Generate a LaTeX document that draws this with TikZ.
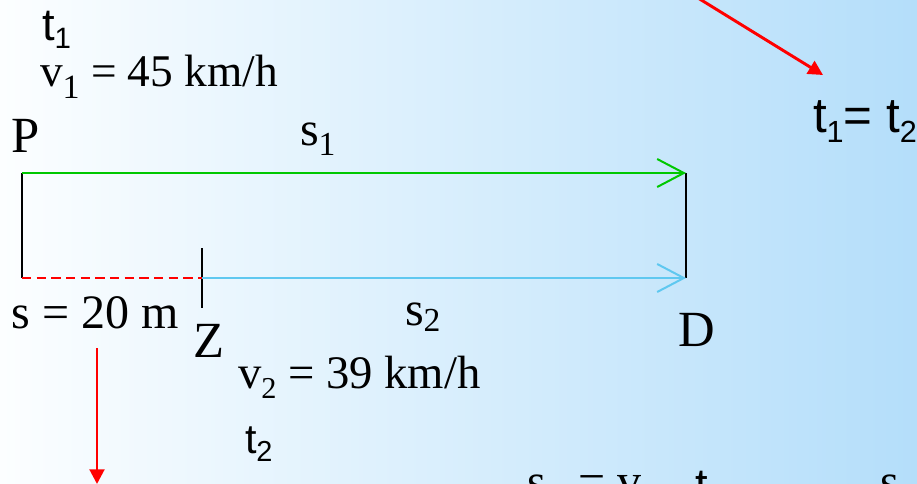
\documentclass[tikz,border=0pt]{standalone}
\usepackage{fontspec}
\setmainfont{Liberation Serif}
\setsansfont{Liberation Sans}
\usepackage{graphicx}
\usetikzlibrary{arrows.meta}
\definecolor{bgleft}{RGB}{252,254,255}
\definecolor{bgmid}{RGB}{208,233,252}
\definecolor{bgright}{RGB}{180,222,250}
\definecolor{pathgreen}{RGB}{0,200,0}
\definecolor{pathblue}{RGB}{95,200,240}
\newcommand\low[3]{\raisebox{-#2pt}{\scalebox{#1}{#3}}}
\tikzset{
  lbl/.style={anchor=base west,inner sep=0pt,outer sep=0pt},
  openarrow/.style={-{Straight Barb[length=20pt,width=21pt,line width=1.5pt]},line width=1.5pt},
  redarrow/.style={-{Triangle[length=11pt,width=11pt]},red,line width=2.2pt},
}

\begin{document}
\begin{tikzpicture}[x=0.75pt,y=-0.75pt]
\useasboundingbox (0,0) rectangle (917,483);
\clip (0,0) rectangle (917,483);
\shade[left color=bgleft,middle color=bgmid,right color=bgright] (0,0) rectangle (917,483);

% points of the two paths
\coordinate (pTop) at (22,173);
\coordinate (pBot) at (22,278);
\coordinate (zMid) at (202,278);
\coordinate (zTop) at (202,248);
\coordinate (zBot) at (202,308);
\coordinate (dTop) at (686,173);
\coordinate (dBot) at (686,278);

\draw[line width=1.5pt] (pTop) -- (pBot);
\draw[line width=1.5pt] (dTop) -- (dBot);
\draw[line width=1.5pt] (zTop) -- (zBot);
\draw[red,line width=1.5pt,dash pattern=on 7pt off 4pt] (pBot) -- (zMid);
\draw[openarrow,pathgreen] (pTop) -- (dTop);
\draw[openarrow,pathblue] (zMid) -- (dBot);

% labels
\node[lbl,font=\fontsize{34}{34}\sffamily] (t1) at (42,40) {t\low{0.65}{6}{1}};
\node[lbl,font=\fontsize{34}{34}\selectfont] (v1) at (40,86) {v\low{0.75}{9}{1} = 45 km/h};
\node[lbl,font=\fontsize{38}{38}\selectfont] (P) at (12,152) {P};
\node[lbl,font=\fontsize{36}{36}\selectfont] (s1) at (300,145) {s\low{0.7}{8}{1}};
\node[lbl,font=\fontsize{36}{36}\selectfont] (s) at (12,328) {s = 20 m};
\node[lbl,font=\fontsize{38}{38}\selectfont] (Z) at (193,357) {Z};
\node[lbl,font=\fontsize{36}{36}\selectfont] (s2) at (405,325) {s\low{0.7}{5}{2}};
\node[lbl,font=\fontsize{38}{38}\selectfont] (D) at (678,346) {D};
\node[lbl,font=\fontsize{35}{35}\selectfont] (v2) at (238,388) {v\low{0.65}{8}{2} = 39 km/h};
\node[lbl,font=\fontsize{31}{31}\sffamily] (t2) at (245,453) {t\low{0.7}{6}{2}};
\node[lbl,font=\fontsize{37}{37}\sffamily] (teq) at (813,132) {t\low{0.62}{8}{1}= t\low{0.62}{8}{2}};

% formula cut off at the lower edge
\node[lbl,font=\fontsize{36}{36}\selectfont] (fs) at (527,497) {s};
\node[lbl,font=\fontsize{36}{36}\selectfont] (feq) at (578,497) {=};
\node[lbl,font=\fontsize{36}{36}\selectfont] (fv) at (617,497) {v};
\node[lbl,font=\fontsize{34}{34}\sffamily] (ft) at (695,500) {t};
\node[lbl,font=\fontsize{36}{36}\selectfont] (fs2) at (880,497) {s};

% red pointers
\coordinate (downTail) at (97,348);
\coordinate (downHead) at (97,484);
\coordinate (diagTail) at (698,-2);
\coordinate (diagHead) at (823,75);
\draw[redarrow] (downTail) -- (downHead);
\draw[redarrow] (diagTail) -- (diagHead);
\end{tikzpicture}
\end{document}
